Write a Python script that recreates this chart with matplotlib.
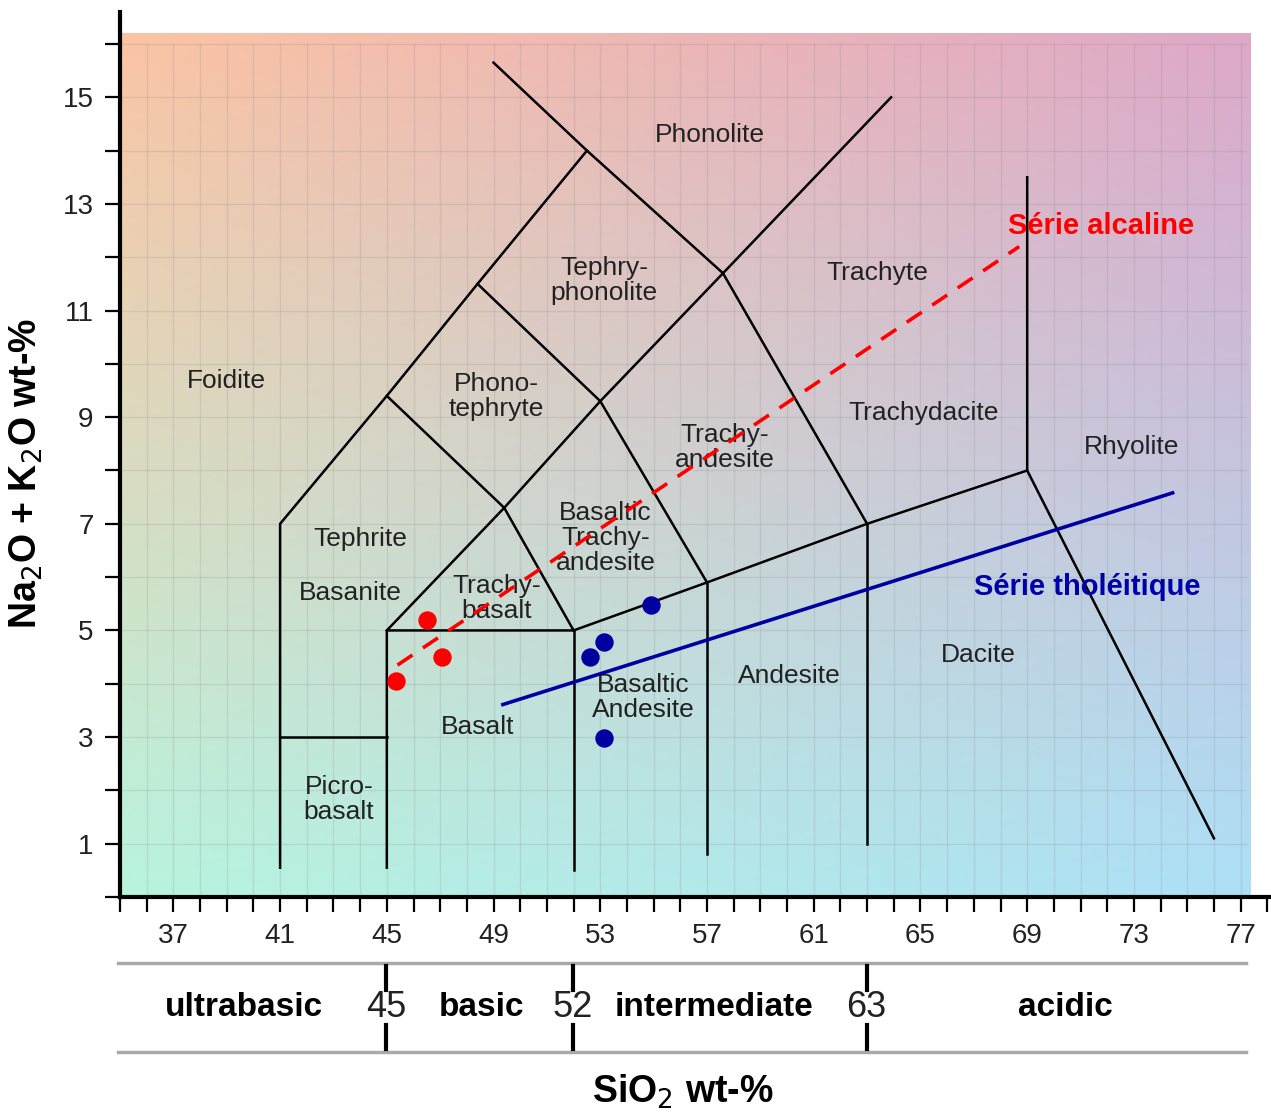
import numpy as np
import matplotlib
matplotlib.use("Agg")
import matplotlib.pyplot as plt
from matplotlib.colors import to_rgb

plt.rcParams['font.family'] = ['Liberation Sans', 'DejaVu Sans']

# TAS field boundaries (SiO2, Na2O+K2O)
boundaries = [
    [(41, 0.55), (41, 7.0), (45, 9.4), (48.4, 11.5), (52.5, 14.0)],
    [(49.0, 15.65), (52.5, 14.0), (57.6, 11.7), (63, 7.0)],
    [(48.4, 11.5), (53, 9.3), (57, 5.9)],
    [(45, 9.4), (49.4, 7.3), (52, 5.0)],
    [(45, 5.0), (49.4, 7.3), (53, 9.3), (57.6, 11.7), (63.9, 15.0)],
    [(45, 0.55), (45, 5.0), (52, 5.0), (57, 5.9), (63, 7.0), (69, 8.0), (69, 13.5)],
    [(41, 3.0), (45, 3.0)],
    [(52, 0.5), (52, 5.0)],
    [(57, 0.8), (57, 5.9)],
    [(63, 1.0), (63, 7.0)],
    [(69, 8.0), (76.0, 1.1)],
]

field_names = ["Phonolite", "Tephry-\nphonolite", "Trachyte", "Foidite", "Phono-\ntephryte",
               "Trachy-\nandesite", "Trachydacite", "Rhyolite", "Tephrite", "Basanite",
               "Basaltic\nTrachy-\nandesite", "Trachy-\nbasalt", "Basaltic\nAndesite",
               "Andesite", "Dacite", "Basalt", "Picro-\nbasalt"]
field_x = [57.1, 53.15, 63.4, 39.0, 49.1, 57.65, 65.1, 72.9, 44.0, 43.65,
           53.2, 49.1, 54.6, 60.1, 67.15, 48.4, 43.2]
field_y = [14.3, 11.57, 11.7, 9.68, 9.38, 8.44, 9.08, 8.44, 6.72, 5.71,
           6.74, 5.6, 3.74, 4.15, 4.53, 3.18, 1.83]

# samples
alk_x = [45.35, 46.5, 47.05]
alk_y = [4.06, 5.2, 4.51]
thol_x = [52.6, 53.15, 54.9, 53.15]
thol_y = [4.51, 4.79, 5.48, 2.99]

# trend lines
alk_line_x = [45.4, 68.7]
alk_line_y = [4.35, 12.2]
thol_line_x = [49.35, 74.45]
thol_line_y = [3.61, 7.58]

# silica classes
class_bounds = [45, 52, 63]
class_names = ["ultrabasic", "basic", "intermediate", "acidic"]
class_x = [39.7, 48.6, 57.3, 70.45]

fig = plt.figure(figsize=(12.71, 11.15), dpi=100)
ax = fig.add_axes([120 / 1271, 218 / 1115, 1150 / 1271, 885 / 1115])
ax.set_xlim(35.05, 78.1)
ax.set_ylim(0, 16.6)

# gradient background
tl, tr = np.array(to_rgb("#fbc4a4")), np.array(to_rgb("#dea8c8"))
bl, br = np.array(to_rgb("#b8f4de")), np.array(to_rgb("#ade0f6"))
u = np.linspace(0, 1, 200)[None, :, None]
v = np.linspace(0, 1, 200)[:, None, None]
img = (1 - v) * ((1 - u) * bl + u * br) + v * ((1 - u) * tl + u * tr)
ax.imshow(img, extent=(35.05, 77.4, 0, 16.2), origin="lower", aspect="auto", zorder=0)

for gx in range(36, 78):
    ax.plot([gx, gx], [0, 16], color="#777777", alpha=0.16, lw=1, zorder=1)
for gy in range(1, 17):
    ax.plot([35.05, 77.2], [gy, gy], color="#777777", alpha=0.16, lw=1, zorder=1)

for seg in boundaries:
    xs, ys = zip(*seg)
    ax.plot(xs, ys, color="black", lw=1.8, zorder=3)

for name, x, y in zip(field_names, field_x, field_y):
    ax.text(x, y, name, ha="center", va="center", fontsize=19, color="#222222",
            linespacing=1.05, zorder=4)

ax.plot(alk_line_x, alk_line_y, color="red", lw=2.6, ls=(0, (5, 3.5)), zorder=5)
ax.plot(thol_line_x, thol_line_y, color="#0000a0", lw=2.6, zorder=5)
ax.scatter(alk_x, alk_y, s=150, color="red", zorder=6)
ax.scatter(thol_x, thol_y, s=150, color="#0000a0", zorder=6)
ax.text(71.75, 12.58, "Série alcaline", color="red", fontsize=21, fontweight="bold",
        ha="center", va="center", zorder=6)
ax.text(71.25, 5.82, "Série tholéitique", color="#0000a8", fontsize=21, fontweight="bold",
        ha="center", va="center", zorder=6)

for side in ["top", "right"]:
    ax.spines[side].set_visible(False)
ax.spines["left"].set_linewidth(3)
ax.spines["bottom"].set_linewidth(3)
ax.set_xticks(range(37, 78, 4))
ax.set_xticks(range(35, 79), minor=True)
ax.set_yticks(range(1, 16, 2))
ax.set_yticks(range(0, 17, 2), minor=True)
ax.tick_params(which="both", direction="out", width=1.6, length=11, labelsize=20,
               labelcolor="#222222", pad=8)
ax.set_ylabel("Na$_2$O + K$_2$O wt-%", fontsize=27, fontweight="bold")
ax.yaxis.set_label_coords(-0.065, 0.479)

# silica class band
bx = fig.add_axes([120 / 1271, 63 / 1115, 1150 / 1271, 89 / 1115])
bx.set_xlim(35.05, 78.1)
bx.set_ylim(0, 1)
bx.axis("off")
for yy in [0, 1]:
    bx.plot([34.97, 77.2], [yy, yy], color="#aaaaaa", lw=2.5, clip_on=False)
for b in class_bounds:
    bx.plot([b, b], [0.03, 0.3], color="black", lw=3)
    bx.plot([b, b], [0.7, 0.97], color="black", lw=3)
    bx.text(b, 0.5, str(b), ha="center", va="center", fontsize=26, color="#222222")
for name, x in zip(class_names, class_x):
    bx.text(x, 0.5, name, ha="center", va="center", fontsize=24, fontweight="bold")

fig.text(683 / 1271, 1 - 1092 / 1115, "SiO$_2$ wt-%", ha="center", va="center",
         fontsize=27, fontweight="bold")

fig.savefig("out.png", dpi=100)
